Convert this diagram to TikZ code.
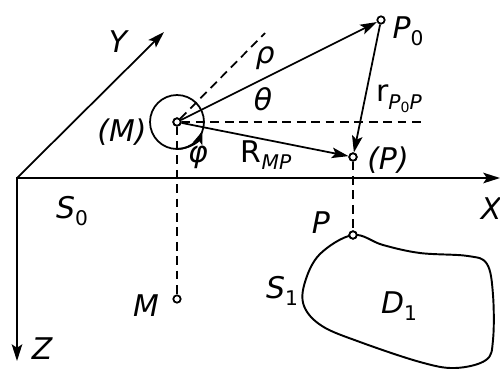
\documentclass[tikz,border=0pt]{standalone}
\usepackage{fontspec}
\setmainfont{DejaVu Sans}
\usetikzlibrary{arrows.meta}
\newcommand\sbx[1]{\raisebox{-0.45ex}{\fontsize{11.5}{12}\selectfont #1}}
\newcommand\ssbx[1]{\raisebox{-0.35ex}{\fontsize{8}{9}\selectfont\upshape #1}}
\begin{document}
\begin{tikzpicture}[x=0.02cm,y=-0.02cm,
  line width=1pt,
  tip/.tip={Stealth[length=9.5pt,width=6pt,inset=2pt]},
  arr/.style={-tip},
  dsh/.style={dash pattern=on 5pt off 3.2pt},
  pt/.style={circle,draw,fill=white,inner sep=0pt,minimum size=4.2pt,line width=1pt},
  lab/.style={font=\fontsize{17}{20}\selectfont\itshape, inner sep=0pt}]
\useasboundingbox (0,0) rectangle (500,369);
% points
\coordinate (O) at (17,178);
\coordinate (xe) at (500,178);
\coordinate (ze) at (17,361);
\coordinate (ye) at (164,32);
\coordinate (rhoe) at (265,33);
\coordinate (he) at (425,122);
% domain D1
\draw[line width=1.1pt] plot[smooth cycle, tension=0.6] coordinates {
 (353,235) (383,245) (420,253) (468,256) (487,264) (493,295) (493,340) (486,360)
 (455,368) (420,362) (360,342) (322,326) (304,306) (305,282) (320,254)};
% axes
\draw[tip-tip] (ze) -- (O) -- (xe);
\draw[arr] (O) -- (ye);
% nodes
\node[pt] (Mc) at (177,122) {};
\node[pt] (P0) at (381,20) {};
\node[pt] (Pp) at (353,157) {};
\node[pt] (P) at (353,235) {};
\node[pt] (M) at (177,299) {};
% circle and angle
\draw (Mc) circle[radius=0.54cm];
\draw[-{Stealth[length=7.5pt,width=5.5pt,inset=1.8pt]}] ([shift={(-90:0.54cm)}]Mc) arc[start angle=-90, end angle=-20, radius=0.54cm];
% dashed
\draw[dsh] (Mc) -- (rhoe);
\draw[dsh] (Mc) -- (he);
\draw[dsh] (Mc) -- (M);
\draw[dsh] (Pp) -- (P);
% vectors
\draw[arr] (Mc) -- (P0);
\draw[arr] (Mc) -- (Pp);
\draw[arr] (P0) -- (Pp);
\node[pt] at (Mc) {};
\node[pt] at (Pp) {};
\node[pt] at (P) {};
% labels
\node[lab] (ly) at (118,42) {Y};
\node[lab] (lmm) at (122,132) {(M)};
\node[lab] (lphi) at (198,157) {φ};
\node[lab] (lrmp) at (266,155) {\upshape R\sbx{\itshape MP}};
\node[lab] (lth) at (263,99) {θ};
\node[lab] (lrho) at (265,58) {ρ};
\node[lab] (lp0) at (408,31) {P\sbx{\upshape 0}};
\node[lab] (lr) at (399,99) {\upshape r\sbx{\itshape P\ssbx{0}P}};
\node[lab] (lpp) at (388,160) {(P)};
\node[lab] (lx) at (491,209) {X};
\node[lab] (ls0) at (72,211) {S\sbx{\upshape 0}};
\node[lab] (lm) at (146,306) {M};
\node[lab] (lz) at (42,349) {Z};
\node[lab] (lp) at (321,223) {P};
\node[lab] (ls1) at (282,291) {S\sbx{\upshape 1}};
\node[lab] (ld1) at (399,306) {D\sbx{\upshape 1}};
\end{tikzpicture}
\end{document}
